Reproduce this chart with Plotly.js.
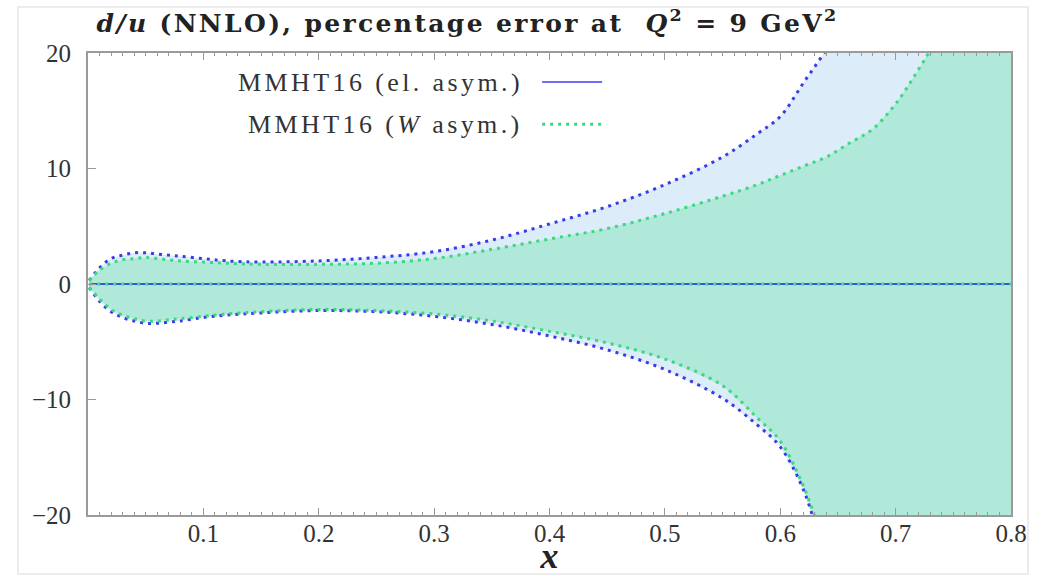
<!DOCTYPE html>
<html>
<head>
<meta charset="utf-8">
<script src="https://cdn.plot.ly/plotly-3.0.1.min.js"></script>
<style>
html,body{margin:0;padding:0;background:#fff;}
#chart{width:1050px;height:576px;}
.gtitle{letter-spacing:2.35px;}
.annotation-text{letter-spacing:3.4px;}
</style>
</head>
<body>
<div id="chart"></div>
<script>
// x grid
const xVals = [0.001, 0.01, 0.02, 0.03, 0.04, 0.05, 0.06, 0.07, 0.08, 0.1, 0.12, 0.15, 0.2, 0.25, 0.3, 0.35, 0.4, 0.45, 0.5, 0.55, 0.58, 0.6, 0.62, 0.64, 0.66, 0.68, 0.7, 0.72, 0.74, 0.77, 0.8];
// MMHT16 (el. asym.) percentage error band
const elUpper = [0.3, 1.4, 2.2, 2.5, 2.7, 2.7, 2.6, 2.5, 2.4, 2.2, 2.0, 1.9, 2.0, 2.3, 2.8, 3.8, 5.2, 6.7, 8.6, 11.0, 13.0, 14.5, 17.4, 20.3, 23.5, 27, 32, 37, 42, 50, 58];
const elLower = [-0.3, -1.5, -2.4, -2.9, -3.2, -3.4, -3.4, -3.3, -3.2, -2.9, -2.7, -2.5, -2.3, -2.4, -2.8, -3.5, -4.5, -5.7, -7.4, -9.9, -12.2, -14.1, -17.8, -24, -29, -34, -40, -46, -52, -60, -68];
// MMHT16 (W asym.) percentage error band
const wUpper = [0.3, 1.2, 1.8, 2.1, 2.2, 2.3, 2.2, 2.1, 2.0, 1.9, 1.8, 1.7, 1.7, 1.8, 2.2, 3.0, 3.9, 4.8, 6.1, 7.6, 8.6, 9.4, 10.2, 11.0, 12.2, 13.4, 15.6, 18.6, 22, 28, 35];
const wLower = [-0.3, -1.3, -2.2, -2.7, -3.0, -3.2, -3.2, -3.1, -3.0, -2.8, -2.6, -2.4, -2.2, -2.3, -2.6, -3.2, -4.1, -5.1, -6.5, -8.8, -11.6, -13.6, -17.5, -23, -28, -33, -39, -45, -51, -59, -67];
const central = xVals.map(() => 0);
// ticks
const xTickVals = [0.1, 0.2, 0.3, 0.4, 0.5, 0.6, 0.7, 0.8];
const xTickText = ["0.1", "0.2", "0.3", "0.4", "0.5", "0.6", "0.7", "0.8"];
const yTickVals = [-20, -10, 0, 10, 20];
const yTickText = ["\u221220", "\u221210", "0", "10", "20"];
const legendNames = ["MMHT16 (el. asym.)", "MMHT16 (<i>W</i> asym.)"];

const blueDot = "#3a3ae8";
const greenDot = "#3bd97e";
const blueFill = "#dcedf9";
const greenFill = "#b0e8da";
const dotDash = "3px,5px";

const traces = [
  {x: xVals, y: elLower, mode: "lines", line: {width: 0, color: blueFill}, hoverinfo: "skip", showlegend: false},
  {x: xVals, y: elUpper, mode: "lines", line: {width: 0, color: blueFill}, fill: "tonexty", fillcolor: blueFill, hoverinfo: "skip", showlegend: false},
  {x: xVals, y: wLower, mode: "lines", line: {width: 0, color: greenFill}, hoverinfo: "skip", showlegend: false},
  {x: xVals, y: wUpper, mode: "lines", line: {width: 0, color: greenFill}, fill: "tonexty", fillcolor: greenFill, hoverinfo: "skip", showlegend: false},
  {x: xVals, y: central, mode: "lines", line: {width: 2, color: "#3a55e0"}, showlegend: false},
  {x: xVals, y: central, mode: "lines", line: {width: 3, color: greenDot, dash: dotDash}, showlegend: false},
  {x: xVals, y: elUpper, mode: "lines", line: {width: 3, color: blueDot, dash: dotDash, shape: "spline"}, showlegend: false},
  {x: xVals, y: elLower, mode: "lines", line: {width: 3, color: blueDot, dash: dotDash, shape: "spline"}, showlegend: false},
  {x: xVals, y: wUpper, mode: "lines", line: {width: 3, color: greenDot, dash: dotDash, shape: "spline"}, showlegend: false},
  {x: xVals, y: wLower, mode: "lines", line: {width: 3, color: greenDot, dash: dotDash, shape: "spline"}, showlegend: false}
];

const serif = "'Liberation Serif', 'DejaVu Serif', serif";
const serifBold = "'DejaVu Serif', 'Liberation Serif', serif";
const frame = "#9a9a9a";

const layout = {
  width: 1050, height: 576,
  margin: {l: 88, r: 39, t: 53, b: 61},
  paper_bgcolor: "#ffffff", plot_bgcolor: "#ffffff",
  showlegend: false,
  title: {
    text: "<b><i>d/u</i> (NNLO), percentage error at  <i>Q</i><sup>2</sup> = 9 GeV<sup>2</sup></b>",
    font: {family: serifBold, size: 25, color: "#222"},
    x: 0.092, xanchor: "left", xref: "container",
    y: 0.975, yanchor: "top", yref: "container"
  },
  xaxis: {
    range: [0, 0.8], showgrid: false, zeroline: false,
    tickvals: xTickVals, ticktext: xTickText,
    ticks: "inside", ticklen: 7, tickwidth: 1, tickcolor: frame,
    minor: {dtick: 0.01, tick0: 0, ticks: "inside", ticklen: 3, tickcolor: frame, tickwidth: 1, showgrid: false},
    showline: true, linecolor: frame, linewidth: 2, mirror: "allticks",
    tickfont: {family: serif, size: 25, color: "#333"},
    ticklabelstandoff: -5,
    title: {text: "<b><i>x</i></b>", font: {family: serif, size: 36, color: "#222"}, standoff: 2}
  },
  yaxis: {
    range: [-20, 20], showgrid: false, zeroline: false,
    tickvals: yTickVals, ticktext: yTickText,
    ticks: "inside", ticklen: 8, tickwidth: 1, tickcolor: frame,
    showline: true, linecolor: frame, linewidth: 2, mirror: true,
    tickfont: {family: serif, size: 25, color: "#333"},
    ticklabelstandoff: 10
  },
  annotations: [
    {xref: "paper", yref: "paper", x: 0.4735, y: 0.937, xanchor: "right", yanchor: "middle", showarrow: false,
     text: legendNames[0], font: {family: serif, size: 26, color: "#333"}},
    {xref: "paper", yref: "paper", x: 0.4735, y: 0.846, xanchor: "right", yanchor: "middle", showarrow: false,
     text: legendNames[1], font: {family: serif, size: 26, color: "#333"}}
  ],
  shapes: [
    {type: "line", xref: "paper", yref: "paper", x0: 0.492, x1: 0.557, y0: 0.937, y1: 0.937, line: {color: "#6d6df5", width: 2}},
    {type: "line", xref: "paper", yref: "paper", x0: 0.492, x1: 0.557, y0: 0.846, y1: 0.846, line: {color: greenDot, width: 3, dash: dotDash}},
    {type: "rect", xref: "paper", yref: "paper", x0: -0.0758, x1: 1.0184, y0: -0.1277, y1: 1.0996, line: {color: "#e6e6e6", width: 1.5}, layer: "below"}
  ]
};

Plotly.newPlot("chart", traces, layout, {displayModeBar: false, staticPlot: true});
</script>
</body>
</html>
